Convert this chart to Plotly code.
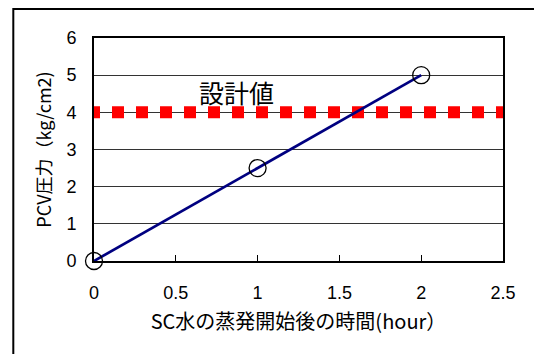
import plotly.graph_objects as go

# Data
hours = [0, 1, 2]
pressure = [0, 2.5, 5]
design_x = [0, 2.5]
design_y = [4, 4]
design_label = "設計値"
x_title = "SC水の蒸発開始後の時間(hour）"
y_title = "PCV圧力（kg/cm2)"

NUM_FONT = "Liberation Sans, Arial, sans-serif"
JP_FONT = "Noto Sans CJK JP"

fig = go.Figure()

# Design pressure: thick red line broken into squares
fig.add_trace(go.Scatter(
    x=design_x, y=design_y, mode="lines",
    line=dict(color="#ff0000", width=12, dash="6px,12px,6px,0px"),
    showlegend=False, hoverinfo="skip",
))

# PCV pressure line with open-circle markers
fig.add_trace(go.Scatter(
    x=hours, y=pressure, mode="lines+markers",
    line=dict(color="#000080", width=2.7),
    marker=dict(symbol="circle-open", size=17, color="black",
                line=dict(width=1.3, color="black")),
    showlegend=False, cliponaxis=False,
))

fig.add_annotation(
    x=0.868, y=4.56, xref="x", yref="y", text=design_label, showarrow=False,
    font=dict(family=JP_FONT, size=25, color="black"),
)

# Outer frame around the chart
fig.add_shape(type="rect", xref="paper", yref="paper",
              x0=-0.1973, x1=1.4, y0=-0.8, y1=1.130,
              line=dict(color="black", width=2), layer="below")

fig.update_layout(
    width=534, height=354,
    margin=dict(l=94, r=31, t=38, b=93),
    paper_bgcolor="white", plot_bgcolor="white",
    font=dict(family=NUM_FONT, size=18, color="black"),
)

fig.update_xaxes(
    range=[0, 2.5], dtick=0.5,
    showgrid=False, zeroline=False,
    showline=True, linecolor="black", linewidth=2, mirror=True,
    ticks="inside", ticklen=6, tickwidth=1, tickcolor="black",
    tickfont=dict(size=18, family=NUM_FONT), ticklabelstandoff=14,
    title=dict(text=x_title, font=dict(size=20, family=JP_FONT), standoff=13),
)
fig.update_yaxes(
    range=[0, 6], dtick=1,
    showgrid=True, gridcolor="#333333", gridwidth=1, zeroline=False,
    showline=True, linecolor="black", linewidth=2, mirror=True,
    ticks="", tickfont=dict(size=18, family=NUM_FONT), ticklabelstandoff=12,
    title=dict(text=y_title, font=dict(size=18, family=JP_FONT), standoff=10),
)

fig.write_html("out.html")
